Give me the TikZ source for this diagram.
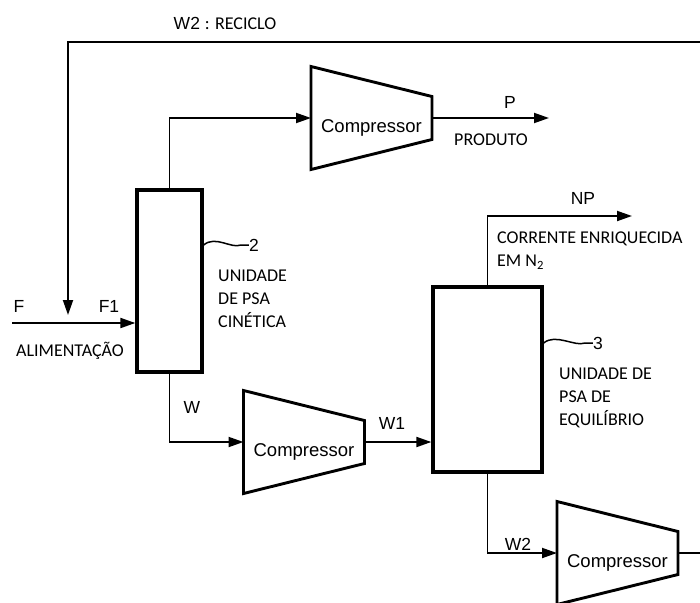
\documentclass[tikz,border=0pt]{standalone}
\usepackage{fontspec}
\setmainfont{Liberation Sans}
\newfontfamily\notefont{Carlito}
\usepackage{tikz}
\usetikzlibrary{arrows.meta,positioning}
\newcommand{\compressor}[2]{%
  \node[comp] (#1) at (#2) {};
  \draw[casing] (#1.north west) -- ([yshift=-30pt]#1.north east)
    -- ([yshift=30pt]#1.south east) -- (#1.south west) -- cycle;
  \node[comptext] (#1txt) at ([yshift=-10pt]#1.center) {Compressor};
}

\begin{document}
\begin{tikzpicture}[
  x=1pt, y=-1pt,
  font=\fontsize{17.5}{20}\selectfont,
  unitbox/.style={draw, line width=3.3pt, inner sep=0pt},
  comp/.style={minimum width=121pt, minimum height=103pt, inner sep=0pt, outer sep=0pt},
  casing/.style={draw, line width=2.9pt, line join=miter},
  comptext/.style={font=\fontsize{18.5}{20}\selectfont, inner sep=0pt},
  tag/.style={inner sep=0pt},
  note/.style={font=\notefont\fontsize{18}{23}\selectfont, align=left, inner sep=0pt},
  pipe/.style={line width=1.9pt},
  stream/.style={pipe, -{Triangle[length=15pt,width=10pt]}},
  lead/.style={line width=1.5pt}
]
  \clip (0,0) rectangle (700,602);

  \node[unitbox, minimum width=65pt, minimum height=182pt] (psa2) at (169.5,281) {};
  \node[unitbox, minimum width=109pt, minimum height=185pt] (psa3) at (487.5,379.5) {};

  \compressor{cmpP}{371.5,118}
  \compressor{cmpW}{304,442}
  \compressor{cmpR}{617.5,553}

  \coordinate (recycle) at (700,42);
  \coordinate (mixTip) at (68,315);
  \coordinate (feed) at (12,323);
  \coordinate (prodEnd) at (549,118);
  \coordinate (npEnd) at (632,216);
  \coordinate (recOut) at (700,553);

  \draw[stream] (recycle) -| (mixTip);
  \draw[stream] (feed) -- (feed -| psa2.west);
  \draw[stream] (psa2.north) |- (cmpP.west);
  \draw[stream] (cmpP.east) -- (prodEnd);
  \draw[stream] (psa2.south) |- (cmpW.west);
  \draw[stream] (cmpW.east) -- (cmpW.east -| psa3.west);
  \draw[stream] (psa3.north) |- (npEnd);
  \draw[stream] (psa3.south) |- (cmpR.west);
  \draw[pipe] (cmpR.east) -- (recOut);

  \node[tag] (lblRec) at (225,23) {W2 {\notefont\fontsize{18}{20}\selectfont: RECICLO}};
  \node[tag] (lblF) at (19,306) {F};
  \node[tag] (lblF1) at (109,306) {F1};
  \node[note] (lblFeed) at (70,351) {ALIMENTAÇÃO};
  \node[tag] (lblP) at (510,102) {P};
  \node[note] (lblProd) at (491,140) {PRODUTO};
  \node[tag] (lblW) at (192,407) {W};
  \node[tag] (lblW1) at (392,423) {W1};
  \node[tag] (lblW2) at (518,544) {W2};
  \node[tag] (lblNP) at (583,198) {NP};
  \node[note, anchor=west] (lblNPtxt) at (497,250.5) {CORRENTE ENRIQUECIDA\\EM N\textsubscript{2}};

  \node[tag] (lbl2) at (254,245) {2};
  \node[note, anchor=west] (lblUnit2) at (218,298.5) {UNIDADE\\DE PSA\\CINÉTICA};
  \draw[lead] (psa2.east |- lbl2) .. controls +(12,-10) and +(-10,4) .. ([xshift=-8pt]lbl2.west) -- (lbl2.west);

  \node[tag] (lbl3) at (598,343) {3};
  \node[note, anchor=west] (lblUnit3) at (559,397.5) {UNIDADE DE\\PSA DE\\EQUILÍBRIO};
  \draw[lead] (psa3.east |- lbl3) .. controls +(12,-10) and +(-10,4) .. ([xshift=-8pt]lbl3.west) -- (lbl3.west);
\end{tikzpicture}
\end{document}
